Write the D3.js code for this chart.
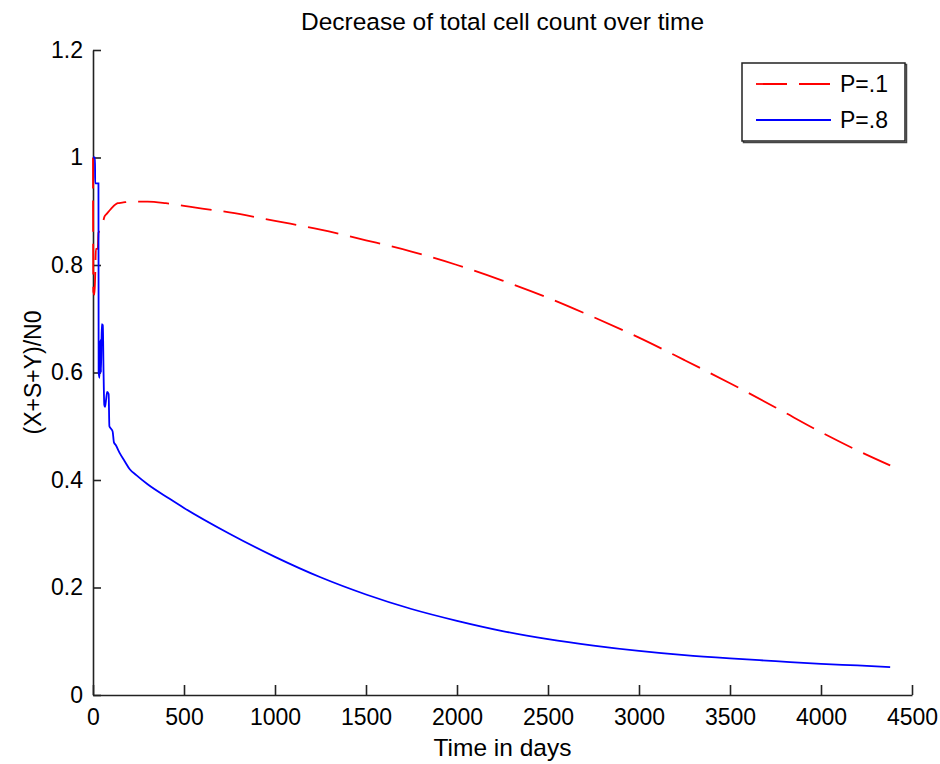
<!DOCTYPE html>
<html>
<head>
<meta charset="utf-8">
<script src="https://cdn.jsdelivr.net/npm/d3@7"></script>
<style>
  body { margin: 0; background: #fff; }
  svg { display: block; font-family: "Liberation Sans", Arial, sans-serif; }
</style>
</head>
<body>
<div id="container"></div>
<script>
// days sampled along each curve
const daysP1 = [0, 2, 8, 12, 16, 26, 30, 42, 55, 63, 75, 100, 136, 160, 210, 300, 400, 500, 600, 750,
    1000, 1250, 1500, 1750, 2000, 2250, 2500, 2750, 3000, 3250, 3500, 3750, 4000, 4200, 4380];
const valuesP1 = [1.0, 0.75, 0.745, 0.78, 0.83, 0.83, 0.86, 0.865, 0.88, 0.89, 0.895, 0.905, 0.915, 0.916, 0.918, 0.918, 0.915, 0.91, 0.905, 0.898,
    0.882, 0.866, 0.846, 0.825, 0.8, 0.771, 0.739, 0.703, 0.665, 0.623, 0.58, 0.535, 0.489, 0.455, 0.427];

const daysP8 = [0, 11, 12, 30, 31, 36, 40, 44, 48, 54, 58, 62, 66, 72, 78, 86, 90, 100, 108, 115, 125, 147, 174, 202, 238,
    300, 421, 500, 750, 1000, 1250, 1500, 1750, 2000, 2250, 2500, 2750, 3000, 3250, 3500, 3750, 4000, 4200, 4380];
const valuesP8 = [1.0, 1.0, 0.952, 0.952, 0.6, 0.59, 0.66, 0.6, 0.69, 0.688, 0.6, 0.54, 0.536, 0.55, 0.564, 0.56, 0.5, 0.495, 0.49, 0.47, 0.465, 0.45, 0.435, 0.42, 0.409,
    0.392, 0.365, 0.348, 0.300, 0.257, 0.219, 0.187, 0.160, 0.138, 0.119, 0.104, 0.092, 0.082, 0.074, 0.068, 0.063, 0.058, 0.055, 0.052];

const xTicks = [0, 500, 1000, 1500, 2000, 2500, 3000, 3500, 4000, 4500];
const yTicks = [0, 0.2, 0.4, 0.6, 0.8, 1, 1.2];
const legendLabels = ["P=.1", "P=.8"];

const series = [
    { name: legendLabels[0], days: daysP1, values: valuesP1, color: "#ff0000", dash: "31,12" },
    { name: legendLabels[1], days: daysP8, values: valuesP8, color: "#0000ff", dash: null }
];

const margin = { top: 50, right: 28, bottom: 69, left: 93 };
const width = 940 - margin.left - margin.right;
const height = 764 - margin.top - margin.bottom;

const svg = d3.select("#container").append("svg")
    .attr("width", 940)
    .attr("height", 764);

const g = svg.append("g")
    .attr("transform", `translate(${margin.left},${margin.top})`);

const x = d3.scaleLinear().domain([0, 4500]).range([0, width]);
const y = d3.scaleLinear().domain([0, 1.2]).range([height, 0]);

// axes, ticks pointing inward like matlab
const xAxis = g.append("g")
    .attr("transform", `translate(0,${height})`)
    .call(d3.axisBottom(x).tickValues(xTicks).tickSizeInner(-10).tickSizeOuter(0).tickPadding(14).tickFormat(d3.format("d")));

const yAxis = g.append("g")
    .call(d3.axisLeft(y).tickValues(yTicks).tickSizeInner(-8).tickSizeOuter(0).tickPadding(10).tickFormat(d => d === 0 ? "0" : d3.format(".1~f")(d)));

[xAxis, yAxis].forEach(a => {
    a.select(".domain").attr("stroke", "#222").attr("stroke-width", 1.6);
    a.selectAll(".tick line").attr("stroke", "#222").attr("stroke-width", 1.6);
    a.selectAll(".tick text").attr("fill", "#000").style("font-size", "23px");
});

// curves
const line = d3.line()
    .curve(d3.curveMonotoneX)
    .x(d => x(d[0]))
    .y(d => y(d[1]));

series.forEach(s => {
    g.append("path")
        .datum(d3.zip(s.days, s.values))
        .attr("fill", "none")
        .attr("stroke", s.color)
        .attr("stroke-width", 1.8)
        .attr("stroke-dasharray", s.dash)
        .attr("d", line);
});

// labels
svg.append("text")
    .attr("x", margin.left + width / 2)
    .attr("y", 30)
    .attr("text-anchor", "middle")
    .style("font-size", "24.5px")
    .text("Decrease of total cell count over time");

svg.append("text")
    .attr("x", margin.left + width / 2)
    .attr("y", 756)
    .attr("text-anchor", "middle")
    .style("font-size", "24.5px")
    .text("Time in days");

svg.append("text")
    .attr("transform", `translate(41,${margin.top + height / 2}) rotate(-90)`)
    .attr("text-anchor", "middle")
    .style("font-size", "23px")
    .text("(X+S+Y)/N0");

// legend
const legend = svg.append("g").attr("transform", "translate(742,63)");

legend.append("rect")
    .attr("x", 1.5).attr("y", 1.5)
    .attr("width", 163).attr("height", 78)
    .attr("fill", "none").attr("stroke", "#444").attr("stroke-width", 1.5);

legend.append("rect")
    .attr("width", 163).attr("height", 78)
    .attr("fill", "#fff").attr("stroke", "#222").attr("stroke-width", 1.5);

const entry = legend.selectAll(".entry")
    .data(series)
  .enter().append("g")
    .attr("transform", (d, i) => `translate(0,${21 + i * 36})`);

entry.append("line")
    .attr("x1", 14).attr("x2", 89)
    .attr("stroke", d => d.color)
    .attr("stroke-width", 1.8)
    .attr("stroke-dasharray", d => d.dash);

entry.append("text")
    .attr("x", 98)
    .attr("dy", "0.35em")
    .style("font-size", "23px")
    .text(d => d.name);
</script>
</body>
</html>
